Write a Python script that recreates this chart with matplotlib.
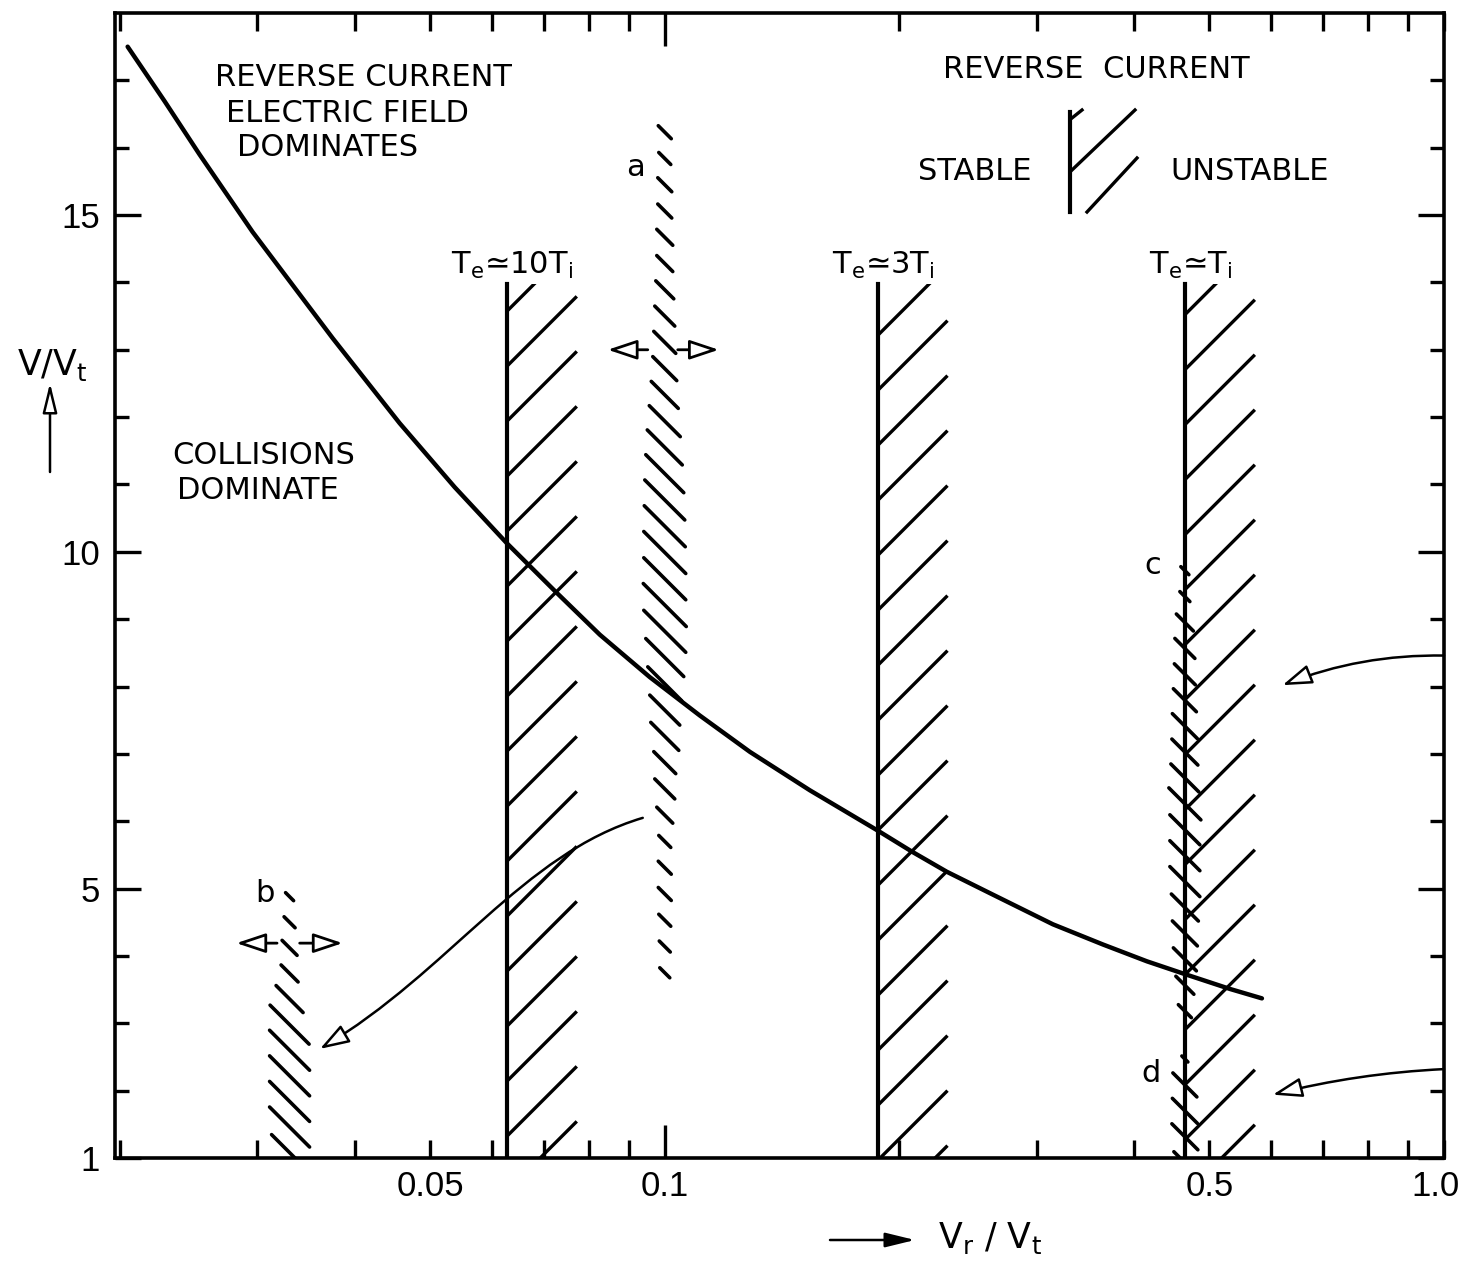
import numpy as np
import matplotlib
matplotlib.use("Agg")
import matplotlib.pyplot as plt
from matplotlib.collections import LineCollection
from matplotlib.patches import FancyArrowPatch, Rectangle
from matplotlib.path import Path
from matplotlib.lines import Line2D
from matplotlib.transforms import ScaledTranslation
from matplotlib.ticker import FixedLocator, FixedFormatter, NullFormatter

plt.rcParams['font.family'] = ['DejaVu Sans']
plt.rcParams['mathtext.fontset'] = 'dejavusans'
plt.rcParams['mathtext.default'] = 'regular'

# ---- data ----
# boundary curve v/vt against vr/vt
curve_x = [0.02045, 0.02281, 0.02529, 0.02958, 0.03749, 0.04568, 0.05375,
           0.06268, 0.07225, 0.08253, 0.09566, 0.1109, 0.1286, 0.1535,
           0.1877, 0.2075, 0.2301, 0.2637, 0.3148, 0.3650, 0.4157, 0.4651,
           0.5312, 0.5839]
curve_y = [17.50, 16.69, 15.90, 14.75, 13.17, 11.91, 10.96,
           10.13, 9.42, 8.77, 8.14, 7.57, 7.03, 6.46,
           5.86, 5.55, 5.25, 4.91, 4.47, 4.17, 3.92, 3.73,
           3.51, 3.37]

# stability boundaries (vertical lines, hatched on the unstable side)
boundary_x = [0.0627, 0.1875, 0.465]
boundary_top = 13.98
boundary_labels = ['T$_e$≃10T$_i$', 'T$_e$≃3T$_i$', 'T$_e$≃T$_i$']
hatch_first = [13.57, 13.21, 13.52]

# dashed boundaries a, b, c, d: x, top, bottom
dash_sets = {
    'a': (0.1, 16.23, 3.75),
    'b': (0.033, 4.88, 1.08),
    'c': (0.465, 9.72, 3.18),
    'd': (0.465, 2.47, 0.93),
}
# dash lengths in pixels, top to bottom
dash_len = {
    'a': [13, 12, 14, 14, 16, 16, 18, 20, 22, 24, 27, 31, 35, 38, 40, 41, 42,
          42, 43, 42, 38, 34, 30, 28, 22, 20, 16, 12, 13, 13, 12, 11, 10],
    'b': [8, 11, 15, 17, 27, 39, 40, 40, 40, 40, 36],
    'c': [8, 10, 17, 20, 21, 23, 25, 26, 28, 32, 30, 30, 30, 27, 25, 23, 18, 13],
    'd': [6, 24, 25, 26, 22],
}

x_tick_vals = [0.05, 0.1, 0.5, 1.0]
x_tick_labels = ['0.05', '0.1', '0.5', '1.0']
x_minor = [0.02, 0.03, 0.04, 0.06, 0.07, 0.08, 0.09,
           0.2, 0.3, 0.4, 0.6, 0.7, 0.8, 0.9]
y_tick_vals = [1, 5, 10, 15]
y_minor = [2, 3, 4, 6, 7, 8, 9, 11, 12, 13, 14, 16, 17]

# arrows (tail, head)
a_arrows = [((0.0951, 13.0), (0.0845, 13.0)), ((0.1039, 13.0), (0.1173, 13.0))]
b_arrows = [((0.0318, 4.19), (0.0282, 4.19)), ((0.0340, 4.19), (0.0386, 4.19))]
right_arrows = [((1.0, 8.46), (0.6205, 8.02), 0.1), ((1.0, 2.32), (0.603, 1.94), 0.05)]
s_arrow = [(0.0937, 6.05), (0.0657, 5.52), (0.053, 3.77), (0.0361, 2.62)]

W, H = 1466, 1262
fig = plt.figure(figsize=(W / 100, H / 100), dpi=100)
ax = fig.add_axes([115 / W, 1 - 1158 / H, (1444 - 115) / W, (1158 - 13) / H])
ax.set_xscale('log')
ax.set_xlim(0.0197, 1.0)
ax.set_ylim(1, 18)

for s in ax.spines.values():
    s.set_linewidth(2.6)

ax.xaxis.set_major_locator(FixedLocator(x_tick_vals))
ax.xaxis.set_major_formatter(FixedFormatter(x_tick_labels))
ax.xaxis.set_minor_locator(FixedLocator(x_minor))
ax.xaxis.set_minor_formatter(NullFormatter())
ax.yaxis.set_major_locator(FixedLocator(y_tick_vals))
ax.yaxis.set_major_formatter(FixedFormatter([str(v) for v in y_tick_vals]))
ax.yaxis.set_minor_locator(FixedLocator(y_minor))
ax.yaxis.set_minor_formatter(NullFormatter())

ax.tick_params(which='both', direction='in', top=True, right=True, width=2.4)
ax.tick_params(axis='x', which='both', length=13, pad=9)
ax.tick_params(axis='y', which='major', length=19, pad=11)
ax.tick_params(axis='y', which='minor', length=10)
for lab in ax.get_xticklabels() + ax.get_yticklabels():
    lab.set_family('Liberation Sans')
    lab.set_fontsize(25)
# the 0.1 tick is drawn longer
t01 = ax.xaxis.get_major_ticks()[1]
t01.tick1line.set_markersize(24)
t01.tick2line.set_markersize(24)
# keep the 1.0 label inside the figure
last = ax.xaxis.get_major_ticks()[-1].label1
last.set_transform(last.get_transform() + ScaledTranslation(-8 / 100, 0, fig.dpi_scale_trans))


def px_offset(x, y, dx, dy):
    X, Y = ax.transData.transform((x, y))
    return ax.transData.inverted().transform((X + dx, Y + dy))


# main curve
ax.plot(curve_x, curve_y, color='k', lw=3.2, solid_capstyle='round',
        solid_joinstyle='round')

# hatched boundaries
for bx, first, lab in zip(boundary_x, hatch_first, boundary_labels):
    ax.plot([bx, bx], [0.5, boundary_top], color='k', lw=3)
    segs = []
    y0 = first
    while y0 > 0:
        x1, y1 = px_offset(bx, y0, 70, 70)
        segs.append([(bx, y0), (x1, y1)])
        y0 = px_offset(bx, y0, 0, -55)[1]
    lc = LineCollection(segs, colors='k', linewidths=2.4)
    ax.add_collection(lc)
    lc.set_clip_path(Rectangle((bx, 1.0), bx, boundary_top - 1.0,
                               transform=ax.transData))
    ax.annotate(lab, xy=(bx, boundary_top), xytext=(4, 2),
                textcoords='offset points', ha='center', va='bottom',
                fontsize=22)

# dashed boundaries
for key, (dx_, top, bot) in dash_sets.items():
    lens = dash_len[key]
    ys = np.linspace(top, bot, len(lens))
    segs = []
    for y, L in zip(ys, lens):
        segs.append([px_offset(dx_, y, -L / 2, L / 2), px_offset(dx_, y, L / 2, -L / 2)])
    ax.add_collection(LineCollection(segs, colors='k', linewidths=2.6,
                                     capstyle='round'))

head = '-|>,head_length=0.9,head_width=0.3'
for tail, tip in a_arrows + b_arrows:
    ax.annotate('', xy=tip, xytext=tail,
                arrowprops=dict(arrowstyle=head, ec='k', fc='white', lw=2,
                                shrinkA=0, shrinkB=0, mutation_scale=20))
for tail, tip, rad in right_arrows:
    ax.annotate('', xy=tip, xytext=tail, annotation_clip=False,
                arrowprops=dict(arrowstyle=head, ec='k', fc='white', lw=1.8,
                                connectionstyle=f'arc3,rad={rad}',
                                shrinkA=0, shrinkB=0, mutation_scale=20))
s_path = Path(s_arrow, [Path.MOVETO, Path.CURVE4, Path.CURVE4, Path.CURVE4])
ax.add_patch(FancyArrowPatch(path=s_path, arrowstyle=head, ec='k', fc='white',
                             lw=1.8, mutation_scale=20))


def fpos(px, py):
    return px / W, 1 - py / H


txt = dict(fontsize=22, ha='center', va='center', family='DejaVu Sans')
fig.text(*fpos(363, 78), 'REVERSE CURRENT', **txt)
fig.text(*fpos(347, 113), 'ELECTRIC FIELD', **txt)
fig.text(*fpos(328, 148), 'DOMINATES', **txt)
fig.text(*fpos(264, 455), 'COLLISIONS', **txt)
fig.text(*fpos(258, 490), 'DOMINATE', **txt)
fig.text(*fpos(1096, 70), 'REVERSE  CURRENT', **txt)
fig.text(*fpos(975, 172), 'STABLE', **txt)
fig.text(*fpos(1250, 172), 'UNSTABLE', **txt)

# stable/unstable key
for (x0, y0), (x1, y1), lw in [((1070, 112), (1070, 212), 3),
                               ((1072, 118), (1082, 110), 2.4),
                               ((1072, 170), (1135, 110), 2.4),
                               ((1087, 212), (1137, 158), 2.4)]:
    p0, p1 = fpos(x0, y0), fpos(x1, y1)
    fig.add_artist(Line2D([p0[0], p1[0]], [p0[1], p1[1]], color='k', lw=lw,
                          transform=fig.transFigure))

lt = dict(fontsize=22, ha='center', va='center')
fig.text(*fpos(636, 168), 'a', **lt)
fig.text(*fpos(265, 893), 'b', **lt)
fig.text(*fpos(1153, 566), 'c', **lt)
fig.text(*fpos(1151, 1073), 'd', **lt)

# axis labels with arrows
fig.text(*fpos(52, 365), 'V/V$_t$', fontsize=25, ha='center', va='center')
ax.annotate('', xy=fpos(50, 383), xytext=fpos(50, 472),
            xycoords='figure fraction', textcoords='figure fraction',
            arrowprops=dict(arrowstyle='-|>,head_length=0.9,head_width=0.22',
                            ec='k', fc='white', lw=1.8, shrinkA=0, shrinkB=0,
                            mutation_scale=20))
fig.text(*fpos(990, 1238), 'V$_r$ / V$_t$', fontsize=25, ha='center', va='center')
ax.annotate('', xy=fpos(915, 1240), xytext=fpos(830, 1240),
            xycoords='figure fraction', textcoords='figure fraction',
            arrowprops=dict(arrowstyle='-|>,head_length=0.9,head_width=0.22',
                            ec='k', fc='k', lw=1.8, shrinkA=0, shrinkB=0,
                            mutation_scale=20))

fig.savefig('out.png', dpi=100)
